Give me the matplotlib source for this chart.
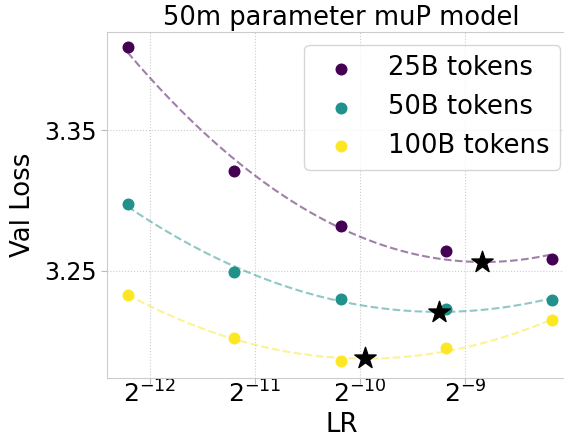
import numpy as np
import matplotlib
matplotlib.use("Agg")
import matplotlib.pyplot as plt

lrs = [0.0002106, 0.000425, 0.000862, 0.001723, 0.003474]
labels = ["25B tokens", "50B tokens", "100B tokens"]
loss_25b = [3.409, 3.321, 3.282, 3.264, 3.2585]
loss_50b = [3.2975, 3.249, 3.230, 3.223, 3.2294]
loss_100b = [3.233, 3.2025, 3.186, 3.195, 3.215]
star_lr = [0.00218, 0.001642, 0.001009]
star_loss = [3.2564, 3.221, 3.1883]
colors = ["#440154", "#21918c", "#fde725"]

fig = plt.figure(figsize=(5.64, 4.40), dpi=100)
ax = fig.add_axes([107 / 564, 0.141, 469 / 564, 0.786])

series = [loss_25b, loss_50b, loss_100b]
x = np.array(lrs)
lx = np.log2(x)
xs = np.linspace(lx.min(), lx.max(), 200)
for ys, c, lab in zip(series, colors, labels):
    coef = np.polyfit(lx, ys, 2)
    ax.plot(2 ** xs, np.polyval(coef, xs), "--", color=c, alpha=0.5, lw=1.5)
    ax.scatter(x, ys, color=c, s=58, label=lab, zorder=3)
ax.scatter(star_lr, star_loss, marker="*", s=260, color="black", zorder=4)

ax.set_xscale("log", base=2)
ax.set_xlim(2 ** -12.41, 2 ** -7.943)
ax.set_ylim(3.174, 3.4195)
ax.set_yticks([3.25, 3.35])
ax.set_yticklabels(["3.25", "3.35"])
ax.set_xticks([2 ** -12, 2 ** -11, 2 ** -10, 2 ** -9])
ax.xaxis.set_minor_locator(matplotlib.ticker.NullLocator())
ax.tick_params(color="#bbbbbb", length=4)
ax.tick_params(axis="y", labelsize=17)
ax.tick_params(axis="x", labelsize=18, pad=-2)
ax.grid(True, linestyle=":", color="#cccccc", lw=0.8)
for s in ax.spines.values():
    s.set_color("#cccccc")
ax.set_xlabel("LR", fontsize=18.7, labelpad=3)
ax.set_ylabel("Val Loss", fontsize=18.7, labelpad=6)
ax.set_title("50m parameter muP model", fontsize=18.5, pad=5)
leg = ax.legend(fontsize=18.6, loc="upper right", handletextpad=0.85,
                bbox_to_anchor=(0.994, 1.0))
fig.savefig("out.png", dpi=100)
